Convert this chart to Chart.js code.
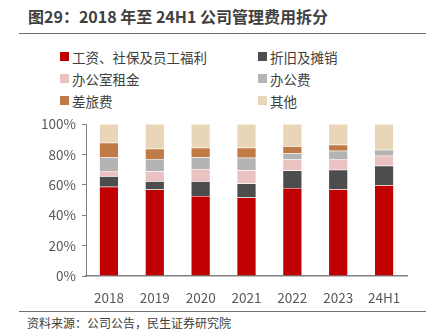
<!DOCTYPE html>
<html>
<head>
<meta charset="utf-8">
<script src="https://cdn.jsdelivr.net/npm/chart.js@4"></script>
<style>
    body { margin: 0; width: 436px; height: 336px; background: #fff; position: relative; overflow: hidden;
           font-family: 'Noto Sans CJK SC', 'Noto Sans', sans-serif; color: #404040; }
    .title { position: absolute; left: 28px; top: 4px; font-size: 16px; font-weight: bold; color: #404040; }
    .rule { position: absolute; left: 19px; width: 407px; height: 0; border-top: 1.5px solid #707070; }
    .legend { position: absolute; left: 60px; top: 46px; width: 340px; display: grid;
              grid-template-columns: 198px 140px; row-gap: 1px; font-size: 13.5px; }
    .legend div { display: flex; align-items: center; height: 21px; }
    .legend span.box { width: 9px; height: 9px; margin-right: 3px; display: inline-block; }
    .chart-wrap { position: absolute; left: 40px; top: 110px; width: 380px; height: 198px; }
    .source { position: absolute; left: 27px; top: 314px; font-size: 12px; color: #404040; }
</style>
</head>
<body>
<div class="title">图29：2018 年至 24H1 公司管理费用拆分</div>
<div class="rule" style="top:33px"></div>
<div class="legend" id="legend"></div>
<div class="chart-wrap"><canvas id="costSplit"></canvas></div>
<div class="rule" style="top:311px"></div>
<div class="source">资料来源：公司公告，民生证券研究院</div>

<script>
const years = ['2018', '2019', '2020', '2021', '2022', '2023', '24H1'];

// shares of admin expenses, %
const salary     = [58.7, 56.9, 52.7, 51.6, 58.0, 57.1, 59.8];
const depreciate = [7.0, 5.5, 9.7, 9.3, 11.5, 12.8, 12.7];
const rent       = [3.5, 6.6, 8.1, 8.8, 7.2, 7.2, 6.6];
const office     = [8.8, 8.1, 7.7, 8.1, 4.0, 5.3, 4.0];
const travel     = [9.7, 6.6, 6.2, 6.6, 4.8, 4.0, 0];
const others     = [12.3, 16.3, 15.6, 15.6, 14.5, 13.6, 16.9];

const seriesNames  = ['工资、社保及员工福利', '折旧及摊销', '办公室租金', '办公费', '差旅费', '其他'];
const seriesData   = [salary, depreciate, rent, office, travel, others];
const seriesColors = ['#C00000', '#4D4D4D', '#EBC2C2', '#B4B4B4', '#C07A45', '#E9D6B6'];

// legend order: two columns, left/right pairs
const legendEl = document.getElementById('legend');
seriesNames.forEach(function (name, i) {
    const item = document.createElement('div');
    item.innerHTML = '<span class="box" style="background:' + seriesColors[i] + '"></span>' + name;
    legendEl.appendChild(item);
});

const tickFont = { family: "'Noto Sans CJK SC', 'Noto Sans', sans-serif", size: 13.5 };

new Chart(document.getElementById('costSplit'), {
    type: 'bar',
    data: {
        labels: years,
        datasets: seriesData.map(function (values, i) {
            return {
                label: seriesNames[i],
                data: values,
                backgroundColor: seriesColors[i],
                borderColor: 'rgba(255,255,255,0.5)',
                borderWidth: 0.5,
                barPercentage: 0.42,
                categoryPercentage: 1,
            };
        })
    },
    options: {
        responsive: true,
        maintainAspectRatio: false,
        animation: false,
        layout: { padding: { top: 6, right: 13, left: 0, bottom: 0 } },
        plugins: { legend: { display: false }, tooltip: { enabled: false } },
        scales: {
            x: {
                stacked: true,
                grid: { display: false },
                border: { display: true, color: '#808080', width: 1.5 },
                ticks: { font: tickFont, color: '#595959', padding: 6 },
                afterFit: function (scale) { scale.height = 32; }
            },
            y: {
                stacked: true,
                min: 0,
                max: 100,
                grid: { display: true, drawOnChartArea: false, drawTicks: true, tickLength: 4, color: '#808080' },
                border: { display: true, color: '#808080', width: 1 },
                ticks: {
                    stepSize: 20,
                    font: tickFont,
                    color: '#595959',
                    padding: 6,
                    callback: function (v) { return v + '%'; }
                },
                afterFit: function (scale) { scale.width = 46; }
            }
        }
    }
});
</script>
</body>
</html>
